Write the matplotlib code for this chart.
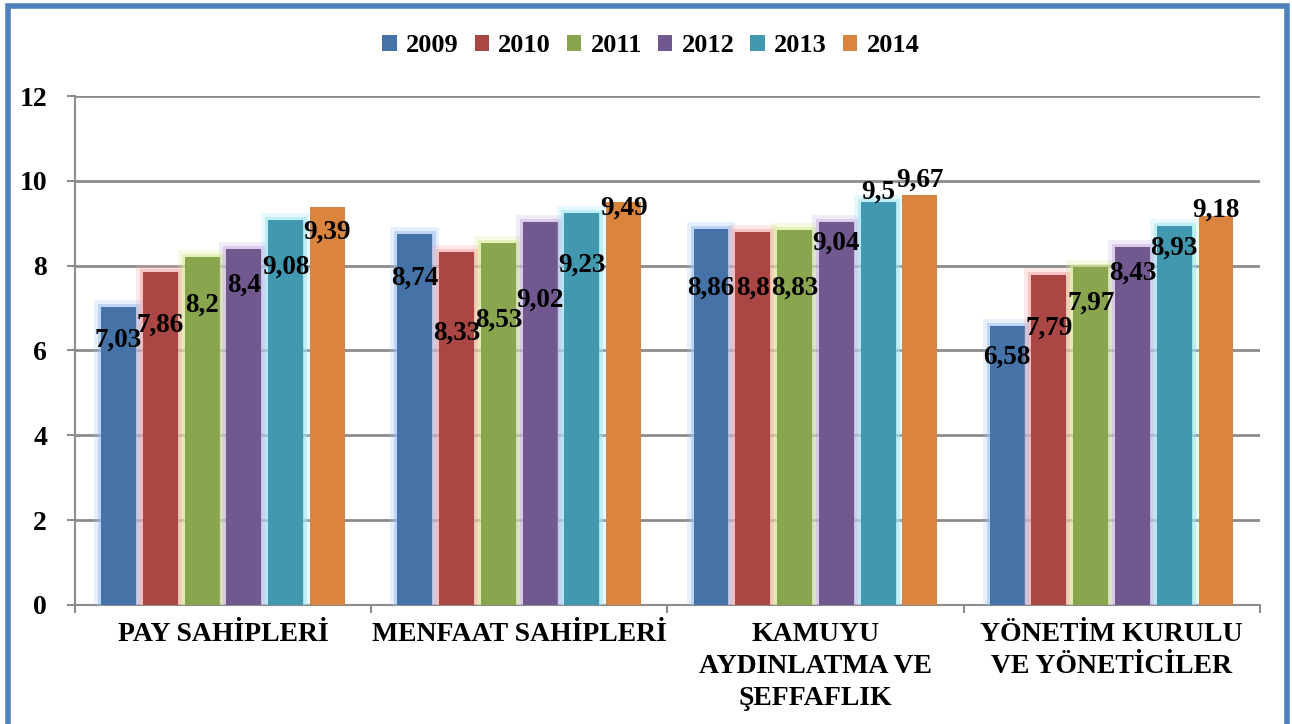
import numpy as np
import matplotlib.pyplot as plt
import matplotlib.patheffects as pe
from matplotlib.patches import Rectangle

plt.rcParams['font.family'] = ['Liberation Serif', 'DejaVu Serif']
plt.rcParams['font.weight'] = 'bold'

categories = ["PAY SAHİPLERİ", "MENFAAT SAHİPLERİ", "KAMUYU\nAYDINLATMA VE\nŞEFFAFLIK",
              "YÖNETİM KURULU\nVE YÖNETİCİLER"]
years = ["2009", "2010", "2011", "2012", "2013", "2014"]
values = [
    [7.03, 8.74, 8.86, 6.58],   # 2009
    [7.86, 8.33, 8.80, 7.79],   # 2010
    [8.20, 8.53, 8.83, 7.97],   # 2011
    [8.40, 9.02, 9.04, 8.43],   # 2012
    [9.08, 9.23, 9.50, 8.93],   # 2013
    [9.39, 9.49, 9.67, 9.18],   # 2014
]
labels = [
    ["7,03", "8,74", "8,86", "6,58"],
    ["7,86", "8,33", "8,8", "7,79"],
    ["8,2", "8,53", "8,83", "7,97"],
    ["8,4", "9,02", "9,04", "8,43"],
    ["9,08", "9,23", "9,5", "8,93"],
    ["9,39", "9,49", "9,67", "9,18"],
]
# manual label placement (offset below bar top, data units)
label_drop = [
    [0.78, 1.03, 1.38, 0.73],
    [1.26, 1.91, 1.32, 1.26],
    [1.12, 1.81, 1.35, 0.85],
    [0.85, 1.83, 0.50, 0.60],
    [1.11, 1.21, -0.24, 0.51],
    [0.59, 0.13, -0.35, -0.14],
]

colors = ["#4572A7", "#AA4643", "#89A54E", "#71588F", "#4198AF", "#DB843D"]
glows = ["#9cc3f5", "#f5a7a5", "#d9ef9a", "#c9b3e3", "#9fe6f7", None]

fig = plt.figure(figsize=(12.92, 7.24), dpi=100)
ax = fig.add_axes([0.058, 0.1644, 0.917, 0.703])

x = np.arange(len(categories))
pitch = 0.141
w = 0.118
for i, yr in enumerate(years):
    pos = x + (i - 2.5) * pitch
    bars = ax.bar(pos, values[i], w, color=colors[i], label=yr, zorder=3)
    if glows[i]:
        for b in bars:
            b.set_path_effects([pe.Stroke(linewidth=10, foreground=glows[i], alpha=0.25),
                                pe.Stroke(linewidth=5, foreground=glows[i], alpha=0.55),
                                pe.Normal()])
    for j in range(len(categories)):
        ax.text(pos[j], values[i][j] - label_drop[i][j], labels[i][j], ha='center', va='center',
                fontsize=19.5, fontweight='bold', color='black', zorder=5)

ax.set_xlim(-0.5, len(categories) - 0.5)
ax.set_ylim(0, 12)
ax.set_yticks(range(0, 13, 2))
ax.yaxis.grid(True, color='#8c8c8c', linewidth=2, zorder=0)
ax.set_axisbelow(True)
ax.set_xticks(x)
ax.set_xticklabels(categories, fontsize=20, fontweight='bold')
for lab in ax.get_xticklabels():
    lab.set_linespacing(1.38)
ax.set_xticks(np.arange(-0.5, len(categories)), minor=True)
ax.tick_params(axis='x', which='major', length=0, pad=12)
ax.tick_params(axis='x', which='minor', length=6, color='#8c8c8c', width=1.5)
ax.tick_params(axis='y', labelsize=20, length=6, color='#8c8c8c', width=1.5, pad=14)
for lab in ax.get_yticklabels():
    lab.set_fontweight('bold')
for s in ['top', 'right']:
    ax.spines[s].set_visible(False)
for s in ['left', 'bottom']:
    ax.spines[s].set_color('#8c8c8c')
    ax.spines[s].set_linewidth(1.5)

leg = ax.legend(loc='upper center', bbox_to_anchor=(0.486, 1.168), ncol=6, frameon=False,
                prop={'size': 19, 'weight': 'bold'}, handlelength=0.55, handleheight=0.55,
                handletextpad=0.35, columnspacing=0.6)
for h in leg.legend_handles:
    h.set_path_effects([])

fig.patches.append(Rectangle((8 / 1292, -0.1), (1287 - 8) / 1292, 1.1 - 6 / 724,
                             transform=fig.transFigure, fill=False,
                             edgecolor='#4F81BD', linewidth=4, zorder=10))

fig.savefig("out.png", dpi=100)
